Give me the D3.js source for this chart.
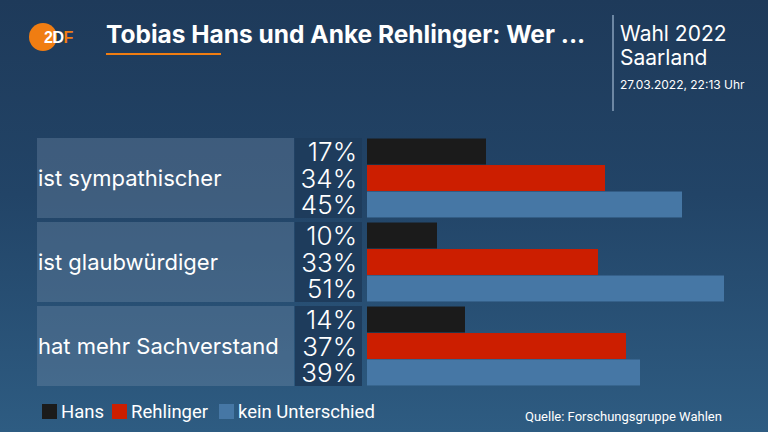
<!DOCTYPE html>
<html>
<head>
<meta charset="utf-8">
<script src="https://cdn.jsdelivr.net/npm/d3@7"></script>
<style>
  body { margin: 0; padding: 0; background: #1f3c5c; }
  svg { display: block; }
</style>
</head>
<body>
<svg width="768" height="432"></svg>
<script>
// chart data
var categories = ["ist sympathischer", "ist glaubwürdiger", "hat mehr Sachverstand"];
var seriesNames = ["Hans", "Rehlinger", "kein Unterschied"];
var hansValues = [17, 10, 14];
var rehlingerValues = [34, 33, 37];
var keinValues = [45, 51, 39];
var seriesColors = ["#1b1b1b", "#cc1e00", "#4677a5"];

var svg = d3.select("svg"),
  width = +svg.attr("width"),
  height = +svg.attr("height");

// background gradient
var defs = svg.append("defs");
var grad = defs.append("linearGradient").attr("id", "bg")
  .attr("x1", 0).attr("y1", 0).attr("x2", 0).attr("y2", 1);
grad.append("stop").attr("offset", "0%").attr("stop-color", "#1e3a5a");
grad.append("stop").attr("offset", "45%").attr("stop-color", "#224467");
grad.append("stop").attr("offset", "100%").attr("stop-color", "#2e5c82");
svg.append("rect").attr("width", width).attr("height", height).attr("fill", "url(#bg)");

// header: logo
svg.append("circle").attr("cx", 43).attr("cy", 37).attr("r", 14).attr("fill", "#f07d12");
var logo = svg.append("text").attr("x", 44).attr("y", 43)
  .attr("font-family", "Liberation Sans, Arial, sans-serif").attr("font-weight", "bold")
  .attr("font-size", 16).attr("letter-spacing", -0.5);
logo.append("tspan").attr("fill", "#ffffff").text("2D");
logo.append("tspan").attr("fill", "#f07d12").text("F");

// title
svg.append("text").attr("x", 106).attr("y", 43)
  .attr("font-family", "Inter, Roboto, sans-serif").attr("font-weight", "bold")
  .attr("font-size", 24.5).attr("fill", "#ffffff")
  .text("Tobias Hans und Anke Rehlinger: Wer ...");
svg.append("rect").attr("x", 106).attr("y", 53).attr("width", 115).attr("height", 2).attr("fill", "#f07d12");

// right header block
svg.append("rect").attr("x", 612).attr("y", 15).attr("width", 2).attr("height", 96).attr("fill", "#6d87a3");
svg.append("text").attr("x", 620).attr("y", 41)
  .attr("font-family", "Inter, Roboto, sans-serif").attr("font-size", 21).attr("fill", "#ffffff")
  .text("Wahl 2022");
svg.append("text").attr("x", 620).attr("y", 65)
  .attr("font-family", "Inter, Roboto, sans-serif").attr("font-size", 21).attr("fill", "#ffffff")
  .text("Saarland");
svg.append("text").attr("x", 620).attr("y", 89)
  .attr("font-family", "Inter, Roboto, sans-serif").attr("font-size", 12).attr("fill", "#ffffff")
  .text("27.03.2022, 22:13 Uhr");

// scales
var groupH = 80, groupGap = 4;
var groupY = d3.scaleBand().domain(categories)
  .range([138, 138 + categories.length * groupH + (categories.length - 1) * groupGap])
  .paddingInner(groupGap / (groupH + groupGap)).paddingOuter(0);
var x = d3.scaleLinear().domain([0, 100]).range([367, 1067]);

var rows = categories.map(function(c, i) {
  return { cat: c, values: [hansValues[i], rehlingerValues[i], keinValues[i]] };
});

var g = svg.selectAll("g.group").data(rows).enter().append("g")
  .attr("class", "group")
  .attr("transform", function(d) { return "translate(0," + groupY(d.cat) + ")"; });

var bh = groupY.bandwidth();
var barY = d3.scaleBand().domain(d3.range(3)).range([0, bh]).padding(0.02);

// label box
g.append("rect").attr("x", 37).attr("y", 0).attr("width", 257).attr("height", bh)
  .attr("fill", "#6f8aa5").attr("fill-opacity", 0.38);
g.append("text").attr("x", 38).attr("y", bh / 2 + 8)
  .attr("font-family", "Inter, Roboto, sans-serif").attr("font-size", 22).attr("fill", "#ffffff")
  .text(function(d) { return d.cat; });

// percent box
g.append("rect").attr("x", 295).attr("y", 0).attr("width", 67).attr("height", bh)
  .attr("fill", "#1e3c5c");

g.selectAll("rect.bar").data(function(d) { return d.values; }).enter().append("rect")
  .attr("class", "bar")
  .attr("x", x(0))
  .attr("y", function(d, i) { return barY(i); })
  .attr("width", function(d) { return x(d) - x(0); })
  .attr("height", barY.bandwidth())
  .attr("fill", function(d, i) { return seriesColors[i]; });

g.selectAll("text.pct").data(function(d) { return d.values; }).enter().append("text")
  .attr("class", "pct")
  .attr("x", 357)
  .attr("y", function(d, i) { return barY(i) + barY.bandwidth() / 2 + 9.5; })
  .attr("text-anchor", "end")
  .attr("font-family", "Inter, Roboto, sans-serif").attr("font-weight", 300)
  .attr("font-size", 26).attr("fill", "#ffffff")
  .text(function(d) { return d + "%"; });

// legend
var legendX = [42, 112, 219];
var lg = svg.selectAll("g.legend").data(seriesNames).enter().append("g")
  .attr("class", "legend")
  .attr("transform", function(d, i) { return "translate(" + legendX[i] + ",404)"; });
lg.append("rect").attr("width", 15).attr("height", 15)
  .attr("fill", function(d, i) { return seriesColors[i]; });
lg.append("text").attr("x", 19).attr("y", 14)
  .attr("font-family", "Roboto, sans-serif").attr("font-size", 18.5).attr("fill", "#ffffff")
  .text(function(d) { return d; });

svg.append("text").attr("x", 525).attr("y", 421)
  .attr("font-family", "Roboto, sans-serif").attr("font-size", 13).attr("fill", "#ffffff")
  .text("Quelle: Forschungsgruppe Wahlen");
</script>
</body>
</html>
